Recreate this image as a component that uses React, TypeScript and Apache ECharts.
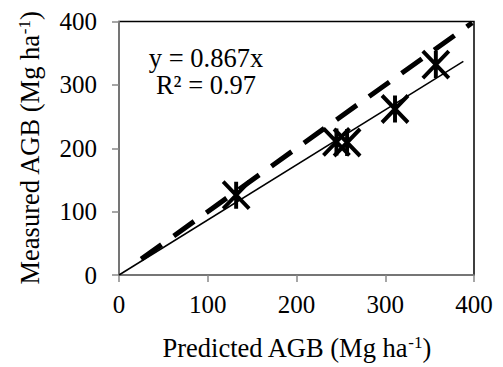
import React, { useEffect, useRef } from "react";
import * as echarts from "echarts";

const predicted = [132, 245, 257, 311, 357];
const measured = [126, 210, 209, 262, 332];
const fitLine = [[0, 0], [388, 337]];
const oneToOne = [[25, 25], [398, 398]];
const ticks = [0, 100, 200, 300, 400];
const xTitle = "Predicted AGB (Mg ha{sup|-1})";
const yTitle = "Measured AGB (Mg ha{sup|-1})";
const eqLines = ["y = 0.867x", "R² = 0.97"];

const FONT = "Liberation Serif, Times New Roman, serif";

export default function App() {
  const ref = useRef<HTMLDivElement>(null);
  useEffect(() => {
    if (!ref.current) return;
    const chart = echarts.init(ref.current, null, { renderer: "svg" });
    const axisCommon = {
      type: "value" as const,
      min: ticks[0],
      max: ticks[ticks.length - 1],
      interval: 100,
      splitLine: { show: false },
      axisLine: { show: true, lineStyle: { color: "#898989", width: 1.5 } },
      axisTick: { show: true, inside: false, length: 7, lineStyle: { color: "#898989", width: 1.5 } },
      axisLabel: { color: "#000", fontFamily: FONT, fontSize: 25 },
      nameLocation: "middle" as const,
      nameTextStyle: {
        color: "#000",
        fontFamily: FONT,
        fontSize: 26.5,
        rich: { sup: { fontSize: 17, verticalAlign: "top", fontFamily: FONT, color: "#000" } },
      },
    };
    chart.setOption({
      animation: false,
      backgroundColor: "#fff",
      grid: {
        left: 119,
        right: 29,
        top: 21.5,
        bottom: 92,
        show: true,
        borderColor: "#000",
        borderWidth: 1.5,
        backgroundColor: "transparent",
      },
      xAxis: {
        ...axisCommon,
        name: xTitle,
        nameGap: 59,
        axisLabel: { ...axisCommon.axisLabel, margin: 17 },
      },
      yAxis: {
        ...axisCommon,
        name: yTitle,
        nameGap: 76,
        axisLabel: { ...axisCommon.axisLabel, margin: 22 },
      },
      graphic: [
        {
          type: "text",
          x: 206,
          y: 44,
          style: {
            text: eqLines.join("\n"),
            font: `26.5px ${FONT}`,
            fill: "#000",
            align: "center",
            verticalAlign: "top",
            lineHeight: 27,
          },
        },
      ],
      series: [
        {
          type: "line",
          data: oneToOne,
          symbol: "none",
          lineStyle: { color: "#000", width: 5, type: [25, 15] },
          z: 2,
        },
        {
          type: "line",
          data: fitLine,
          symbol: "none",
          lineStyle: { color: "#000", width: 1.5 },
          z: 3,
        },
        {
          type: "scatter",
          data: predicted.map((p, i) => [p, measured[i]]),
          symbol: "path://M0,0L24,26M24,0L0,26M12,0L12,26",
          symbolSize: [26, 27],
          symbolKeepAspect: false,
          itemStyle: { color: "#000", borderColor: "#000", borderWidth: 4, opacity: 1 },
          z: 4,
        },
      ],
    });
    return () => chart.dispose();
  }, []);
  return (
    <div
      ref={ref}
      style={{ position: "fixed", left: 0, top: 0, width: 503, height: 367, background: "#fff" }}
    />
  );
}
